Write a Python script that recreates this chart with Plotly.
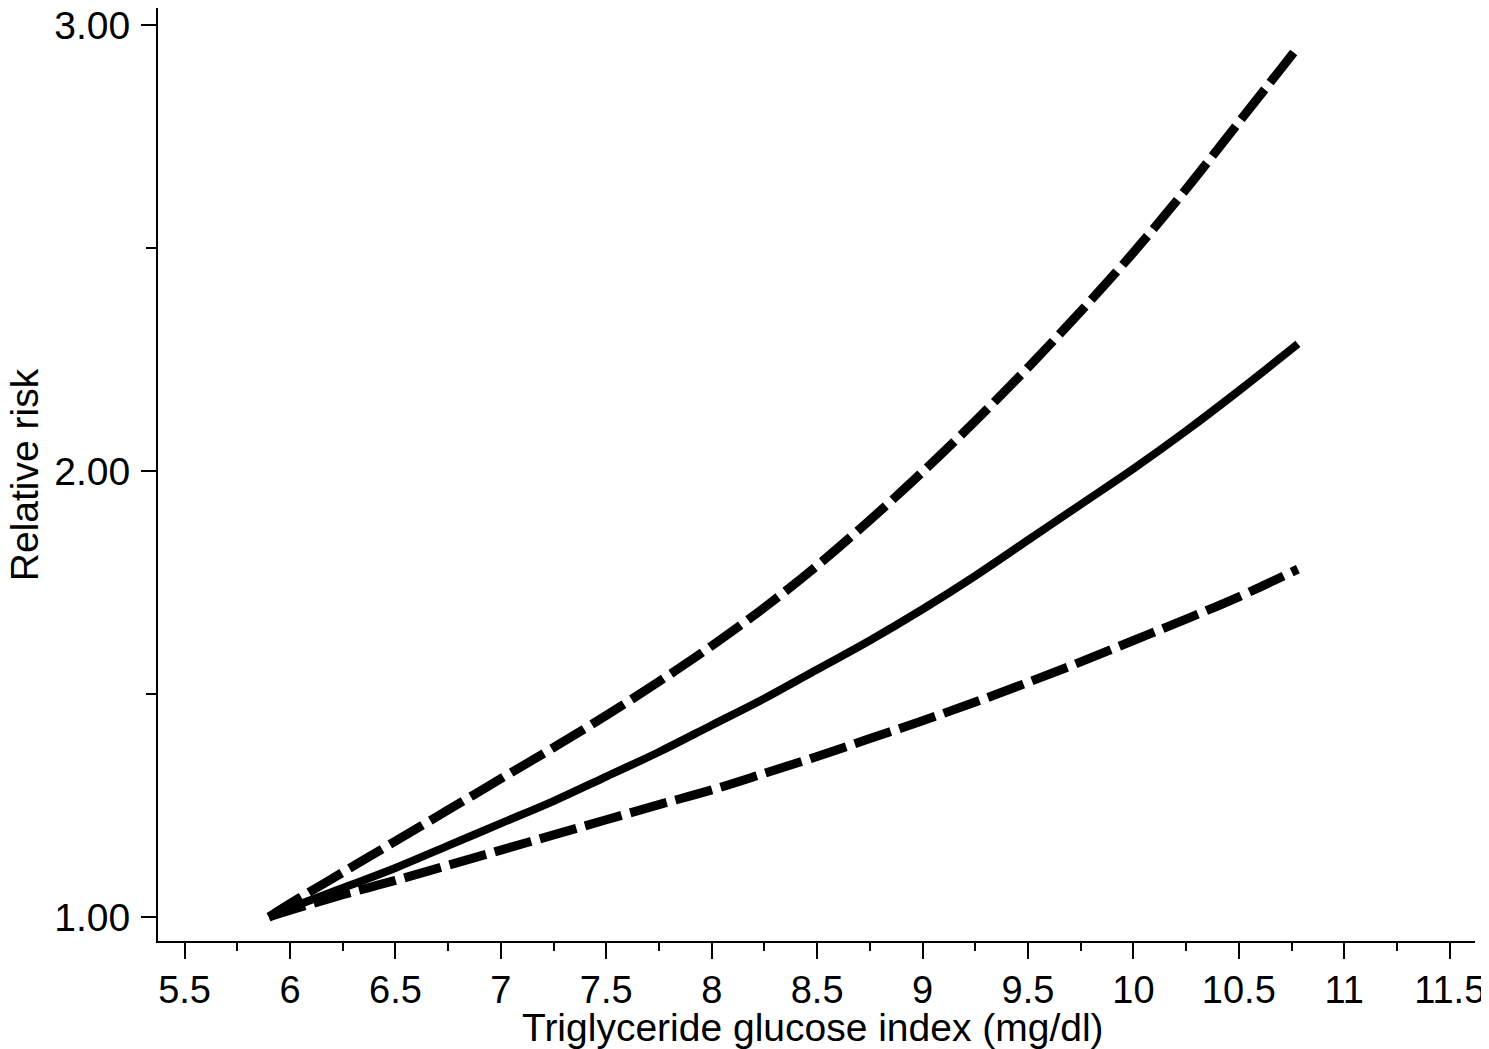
import plotly.graph_objects as go

# Triglyceride glucose index (x) and relative risk with 95% CI
tyg = [5.9, 6.0, 6.25, 6.5, 6.75, 7.0, 7.25, 7.5, 7.75, 8.0, 8.25, 8.5,
       8.75, 9.0, 9.25, 9.5, 9.75, 10.0, 10.25, 10.5, 10.78]
rr = [1.00, 1.02, 1.065, 1.11, 1.16, 1.21, 1.26, 1.315, 1.37, 1.43, 1.49,
      1.555, 1.62, 1.69, 1.765, 1.845, 1.925, 2.005, 2.09, 2.18, 2.285]
upper = [1.00, 1.03, 1.10, 1.17, 1.24, 1.31, 1.38, 1.452, 1.528, 1.608,
         1.694, 1.788, 1.89, 1.998, 2.112, 2.232, 2.358, 2.49, 2.632,
         2.782, 2.95]
lower = [1.00, 1.015, 1.05, 1.082, 1.116, 1.15, 1.184, 1.218, 1.252, 1.285,
         1.322, 1.36, 1.40, 1.44, 1.482, 1.526, 1.572, 1.62, 1.668, 1.718,
         1.78]

x_ticks = [5.5, 6, 6.5, 7, 7.5, 8, 8.5, 9, 9.5, 10, 10.5, 11, 11.5]
y_ticks = [1.0, 2.0, 3.0]

FONT = "Liberation Sans, Arial, sans-serif"

fig = go.Figure()

fig.add_trace(go.Scatter(
    x=tyg, y=upper, mode="lines",
    line=dict(color="black", width=9, dash="38px,9px", shape="spline"),
    showlegend=False,
))
fig.add_trace(go.Scatter(
    x=tyg, y=rr, mode="lines",
    line=dict(color="black", width=8, shape="spline"),
    showlegend=False,
))
fig.add_trace(go.Scatter(
    x=tyg, y=lower, mode="lines",
    line=dict(color="black", width=9, dash="38px,9px", shape="spline"),
    showlegend=False,
))

# page body has an 8px margin, so the figure is sized to fit the window
fig.update_layout(
    width=1481,
    height=1041,
    paper_bgcolor="white",
    plot_bgcolor="white",
    margin=dict(l=150, r=14, t=0, b=108),
    font=dict(family=FONT, size=38, color="black"),
    annotations=[
        dict(text="Triglyceride glucose index (mg/dl)",
             xref="paper", yref="paper", x=0.497, y=-0.0932,
             xanchor="center", yanchor="middle", showarrow=False,
             font=dict(size=39)),
        dict(text="Relative risk", textangle=-90,
             xref="paper", yref="paper", x=-0.1012, y=0.5,
             xanchor="center", yanchor="middle", showarrow=False,
             font=dict(size=39)),
    ],
)

fig.update_xaxes(
    range=[5.374, 11.62],
    automargin=False,
    tickvals=x_ticks,
    ticktext=[f"{v:g}" for v in x_ticks],
    ticks="outside", ticklen=16, tickwidth=2, tickcolor="black",
    minor=dict(dtick=0.25, tick0=5.5, ticks="outside", ticklen=8,
               tickwidth=2, tickcolor="black"),
    showline=True, linecolor="black", linewidth=2,
    showgrid=False, zeroline=False,
    tickfont=dict(size=38),
    ticklabelstandoff=-2,
    ticklabeloverflow="allow",
)

fig.update_yaxes(
    range=[0.9462, 3.0381],
    automargin=False,
    tickvals=y_ticks,
    ticktext=[f"{v:.2f}" for v in y_ticks],
    ticks="outside", ticklen=15, tickwidth=2, tickcolor="black",
    minor=dict(dtick=0.5, tick0=1.0, ticks="outside", ticklen=10,
               tickwidth=2, tickcolor="black"),
    showline=True, linecolor="black", linewidth=2,
    showgrid=False, zeroline=False,
    tickfont=dict(size=39),
    ticklabelstandoff=3,
    ticklabeloverflow="allow",
)

fig.write_html("out.html")
